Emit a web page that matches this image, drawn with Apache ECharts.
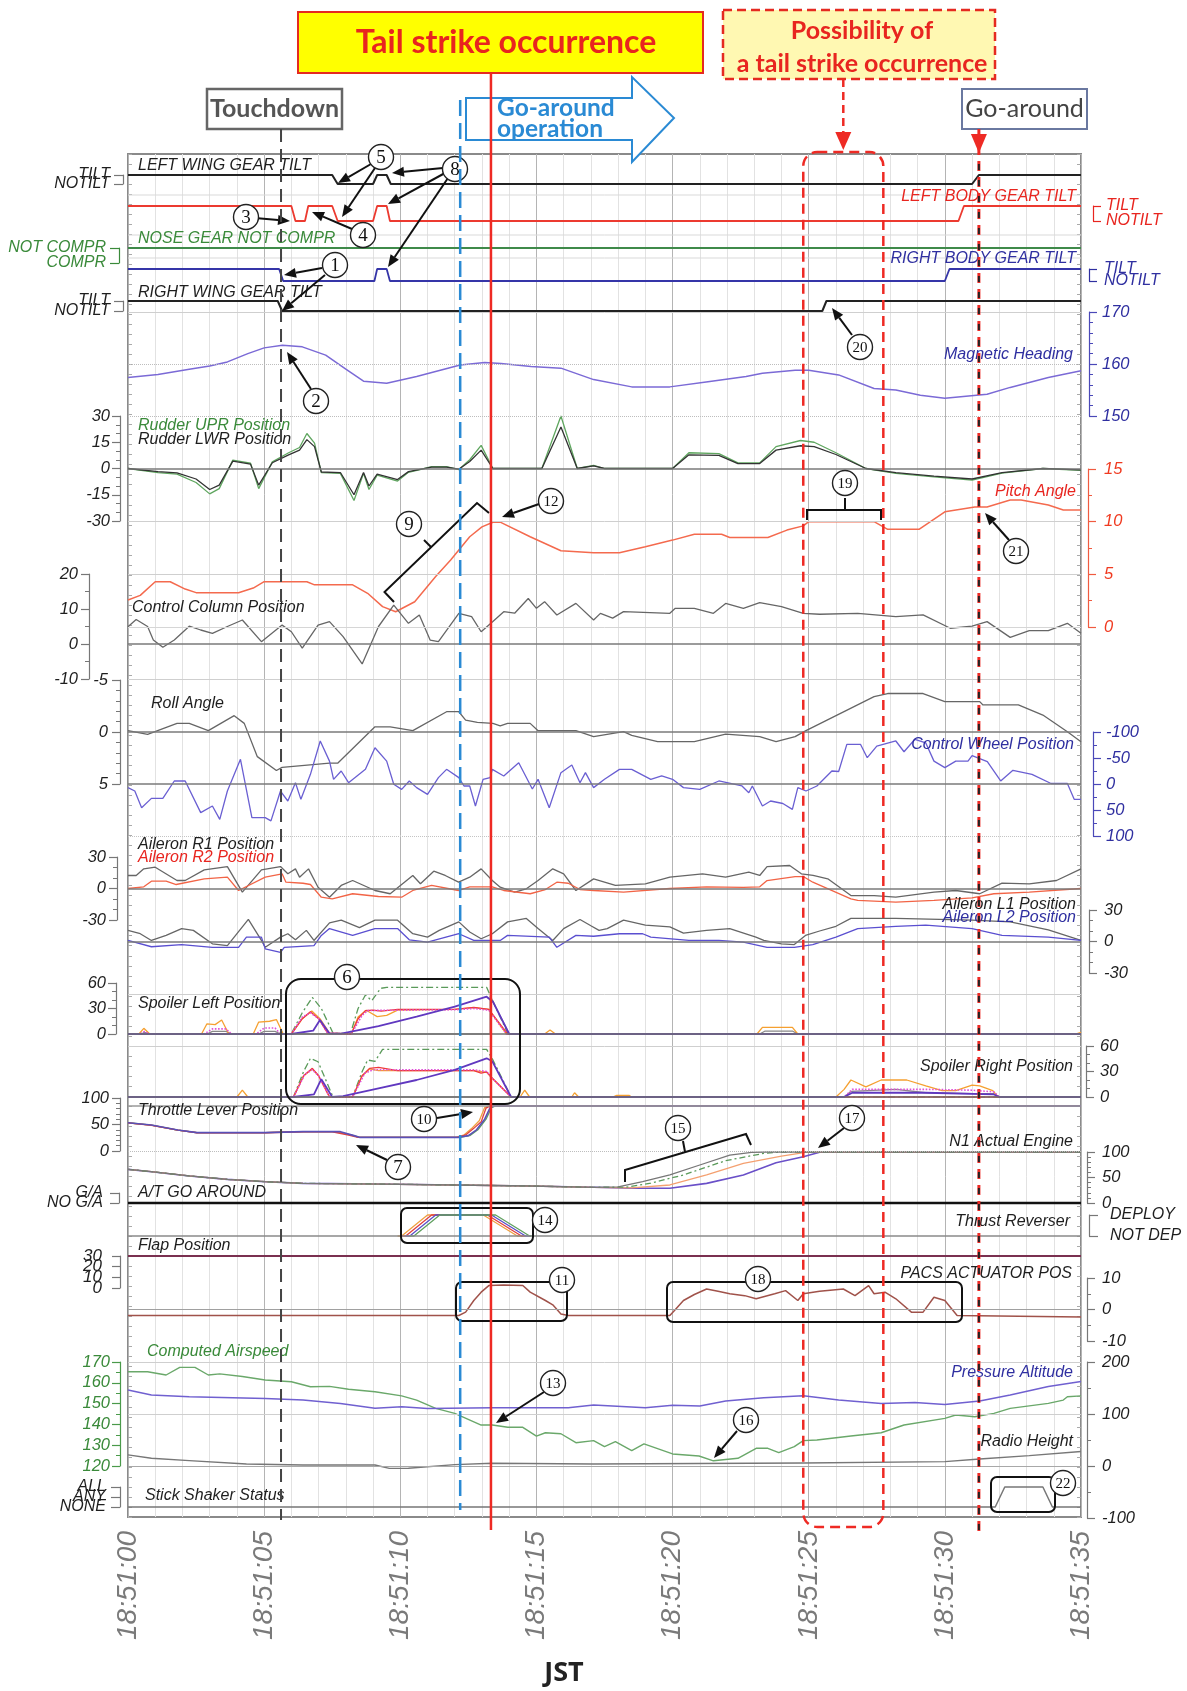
<!DOCTYPE html>
<html><head><meta charset="utf-8">
<script src="https://cdn.jsdelivr.net/npm/echarts@6/dist/echarts.min.js"></script>
<style>html,body{margin:0;padding:0;background:#fff}#c{width:1187px;height:1691px}</style>
</head><body><div id="c"></div>
<script>
// ---------------- DATA (time in seconds after 18:51:00) ----------------
const timeTicks = ['18:51:00','18:51:05','18:51:10','18:51:15','18:51:20','18:51:25','18:51:30','18:51:35'];
const tiltTicks = ['NOTILT','TILT'];
const comprTicks = ['COMPR','NOT COMPR'];
const gaTicks = ['NO G/A','G/A'];
const revTicks = ['NOT DEP','DEPLOY'];
const shakerTicks = ['NONE','ANY','ALL'];
const flapTicks = ['0','10','20','30'];
const eventTimes = [5.62, 12.2, 13.33, 31.25];   // touchdown, go-around op, tail strike, go-around
const possibleWindow = [24.8, 27.74];

const leftWingGear = [[0,1],[7.5,1],[7.7,0],[9.0,0],[9.15,1],[9.5,1],[9.65,0],[31.0,0],[31.25,1],[35,1]];
const leftBodyGear = [[0,1],[6.0,1],[6.15,0],[6.5,0],[6.62,1],[7.5,1],[7.7,0],[9.0,0],[9.15,1],[9.5,1],[9.62,0],[30.5,0],[30.7,1],[35,1]];
const noseGear = [[0,1],[35,1]];
const rightBodyGear = [[0,1],[5.55,1],[5.7,0],[9.05,0],[9.15,1],[9.5,1],[9.62,0],[30.0,0],[30.17,1],[35,1]];
const rightWingGear = [[0,1],[5.5,1],[5.66,0],[25.5,0],[25.65,1],[35,1]];

const magneticHeading = [[0,157.4],[1.1,158.0],[2.25,159.0],[3.0,159.6],[3.65,160.4],[4.4,162.0],[5.0,163.1],[5.67,163.6],[6.4,163.3],[7.26,161.7],[8.0,159.0],[8.65,156.7],[9.5,156.3],[10.6,157.6],[12.2,159.8],[13.1,160.3],[13.7,160.1],[14.8,159.5],[15.9,159.2],[17.1,157.0],[18.5,155.6],[19.9,155.6],[21.3,156.6],[22.7,157.6],[23.3,158.2],[24.5,158.8],[25.0,158.8],[26.1,157.9],[27.4,155.3],[28.2,155.0],[29.1,154.0],[30.0,153.4],[31.55,154.2],[32.4,155.5],[33.8,157.4],[35,158.7]];

const rudderLwr = [[0,0],[1.1,-1.8],[1.8,-2.5],[2.5,-6],[3.0,-12],[3.35,-9.5],[3.85,4.2],[4.5,2.5],[4.8,-9.5],[5.3,3.3],[5.9,7.8],[6.3,10.5],[6.57,16.5],[6.85,12.5],[7.1,-2],[7.8,-2.3],[8.3,-15],[8.65,-2.3],[8.85,-10],[9.15,-3.2],[9.9,-6.3],[10.3,-1.8],[11.15,0.8],[11.7,0.8],[12.15,-0.4],[12.55,4],[12.97,10.5],[13.4,0],[15.2,0],[15.9,23.7],[16.5,0],[17.1,1.5],[17.5,0],[20.0,0],[20.6,7.8],[21.7,7.5],[22.4,2.8],[23.2,2.8],[23.8,10.5],[24.7,13],[25.2,12.5],[26.0,8],[27.1,0],[28.2,-2.3],[29.6,-4.3],[31.0,-6],[32.1,-2.3],[33.6,0],[35,-0.8]];
const rudderUpr = [[0,0],[1.1,-2.4],[1.8,-3.2],[2.5,-8],[3.0,-14.5],[3.35,-11.5],[3.85,4.8],[4.5,3],[4.8,-11.5],[5.3,3.8],[5.9,9],[6.3,12],[6.57,20],[6.85,14.5],[7.1,-2.4],[7.8,-2.8],[8.3,-18.3],[8.65,-2.8],[8.85,-12],[9.15,-3.8],[9.9,-7.2],[10.3,-2.2],[11.15,1],[11.7,1],[12.15,-0.6],[12.55,5],[12.97,13.2],[13.4,0],[15.2,0],[15.9,30],[16.5,0],[17.1,1.8],[17.5,0],[20.0,0],[20.6,9],[21.7,8.5],[22.4,3.2],[23.2,3.2],[23.8,12.5],[24.7,16],[25.2,15],[26.0,9],[27.1,0],[28.2,-2.8],[29.6,-4.8],[31.0,-6.6],[32.1,-2.6],[33.6,0],[35,-1]];

const pitchAngle = [[0,2.56],[0.45,3.0],[1.0,4.3],[1.55,4.3],[2.1,3.6],[2.5,3.26],[4.06,3.26],[4.6,3.7],[5.0,4.3],[6.57,4.3],[6.85,4.0],[8.25,4.0],[8.8,3.2],[9.35,1.93],[9.83,1.45],[10.53,2.4],[11.3,4.8],[11.85,6.36],[12.55,8.57],[13.0,9.5],[13.4,9.94],[13.67,9.95],[14.77,8.57],[15.9,7.24],[17.1,7.05],[18.05,7.05],[19.0,7.62],[20.0,8.25],[20.8,8.8],[21.8,8.8],[22.1,8.5],[23.5,8.5],[24.2,9.2],[24.8,9.6],[25.0,10.0],[27.4,10.0],[27.9,9.27],[29.05,9.27],[30.0,10.94],[31.1,11.4],[31.55,11.4],[32.4,12.05],[32.8,12.05],[33.8,11.58],[34.35,11.1],[35,11.1]];

const controlColumn = [[0,4.95],[0.3,7.0],[0.72,5],[0.93,1.14],[1.28,-0.95],[1.7,1.14],[2.25,5.1],[2.67,4],[3.1,3.05],[3.65,5],[4.2,6.86],[4.9,0.67],[5.66,5.4],[6.0,3.5],[6.4,-1.2],[6.98,5.4],[7.4,6.4],[7.9,2.1],[8.6,-5.7],[9.2,5],[9.76,11.1],[10.3,5.9],[10.7,8.3],[11.1,1.1],[11.4,0.7],[12.15,8.76],[12.62,7.8],[12.97,3.5],[13.4,6.4],[13.8,9.24],[14.2,8.8],[14.7,13.0],[15.0,10.2],[15.3,12.1],[15.75,8.3],[16.45,11.6],[17.1,6.86],[17.35,8.76],[17.8,7.4],[18.2,9.24],[19.9,8.76],[20.1,10.2],[20.8,10.2],[21.5,8.76],[21.95,11.6],[22.6,10.2],[23.2,11.8],[24.0,10.7],[24.8,8.76],[25.4,8.5],[26.8,8.76],[28.2,7.8],[29.2,8.3],[30.2,4.5],[31.0,5.1],[31.55,6.4],[32.4,1.9],[33.1,3.8],[33.8,3.8],[34.5,5.9],[35,3.05]];

const rollAngle = [[0,-0.13],[0.72,0.22],[1.8,-0.83],[2.25,-0.83],[2.95,-0.13],[3.9,-1.57],[4.27,-0.83],[4.75,2.37],[5.45,3.7],[5.66,3.4],[7.4,3.0],[7.7,3.0],[9.07,-0.5],[9.63,-0.5],[10.46,-0.13],[11.7,-1.95],[12.15,-1.95],[12.4,-1.15],[12.83,-0.93],[13.4,-0.83],[13.67,-0.58],[13.94,-0.83],[14.77,-0.83],[15.06,-0.13],[16.45,-0.13],[17.1,0.45],[18.2,-0.03],[18.5,0.32],[19.45,0.93],[20.8,0.93],[21.95,0.2],[23.2,0.45],[23.8,0.93],[24.5,0.45],[24.9,-0.13],[27.4,-3.4],[27.9,-3.7],[29.2,-3.7],[30.0,-2.92],[31.28,-2.92],[31.4,-2.6],[32.7,-2.6],[33.6,-1.63],[34.5,-0.03],[35,0.93]];

const controlWheel = [[0,7],[0.25,13.5],[0.5,45.6],[0.86,27.6],[1.28,27.6],[1.7,-5.8],[2.1,-5.8],[2.67,55.1],[3.1,42.3],[3.37,68],[3.65,13.5],[4.13,-47.5],[4.55,64.7],[5.04,64.7],[5.25,71],[5.6,13.5],[5.87,32.7],[6.15,-2.5],[6.35,29.5],[6.7,-18.6],[7.06,-82.7],[7.4,-44],[7.55,-9],[7.83,-25],[8.1,-2.5],[8.72,-28.2],[9.07,-69.8],[9.5,-44],[9.76,0.6],[10.05,10.3],[10.33,-5.8],[10.6,7],[11.0,19.9],[11.4,-12.2],[11.7,-28.2],[12.15,-12.2],[12.34,3.8],[12.55,3.8],[12.76,42.3],[13.04,-9],[13.3,-12.2],[13.38,-28.2],[13.8,-15.4],[14.35,-41],[14.85,9.6],[15.06,-9],[15.47,45.6],[15.9,-21.8],[16.3,-36.5],[16.6,-2.5],[16.8,-21.8],[17.1,7],[17.5,-9],[18.05,-28.2],[18.5,-28.2],[19.2,-9],[19.6,-15.4],[20.0,-9],[20.4,7],[21.0,10.3],[21.7,-5.8],[22.55,3.8],[22.8,16.7],[22.93,3.8],[23.3,42.3],[23.6,32.7],[24.05,37.5],[24.4,48.7],[24.6,7],[24.9,13.5],[25.3,3.8],[25.85,-25],[26.1,-24],[26.4,-76.3],[26.9,-76.3],[27.15,-50.6],[27.5,-73],[28.2,-82.7],[28.5,-62],[28.9,-86],[29.3,-79],[29.6,-44],[30.0,-31.4],[30.4,-44],[30.85,-44],[31.0,-54.5],[31.56,-43],[32.05,-5.8],[32.5,-26.3],[33.2,-18.6],[33.9,-1],[34.5,-1],[34.75,29.5],[35,29.5]];

const aileronR1 = [[0,12.4],[0.3,12.4],[0.58,18.7],[1.0,20.3],[1.8,7.6],[2.1,7.6],[2.8,17.8],[3.65,20.9],[4.2,-3.5],[4.9,17.8],[5.6,20.9],[5.87,14],[6.15,18.7],[6.3,10.8],[6.63,18.7],[6.98,1.2],[7.4,-8.3],[7.83,2.9],[8.25,7.6],[9.07,-1.9],[9.63,-5],[10.46,12.4],[10.74,4.5],[11.23,16.5],[11.65,12.4],[12.14,6],[12.55,10.8],[12.97,18.7],[13.38,7.6],[13.67,1.2],[14.2,-3.5],[14.63,-0.3],[15.06,7.6],[15.6,18.7],[16.0,14],[16.45,-1.9],[17.1,9.2],[17.9,2.9],[19.0,4.5],[19.9,10.8],[21.1,14],[21.95,10.8],[22.8,15.6],[23.2,12.4],[23.47,20.9],[24.3,21.9],[24.73,14],[25.16,12.4],[25.7,9.2],[26.55,-6.7],[27.4,-6.7],[28.2,-8.3],[29.6,-3.5],[30.4,-1.9],[31.28,-5],[32.1,5.1],[33.1,4.5],[34.1,7.6],[35,18.7]];
const aileronR2 = [[0,0],[0.58,1.6],[0.86,7],[1.4,7],[1.77,3.8],[2.8,9.2],[3.65,10.8],[4.06,-1.9],[5.04,10.8],[5.66,14],[5.8,6],[6.43,5],[6.7,3.8],[7.1,-8.3],[7.5,-9.8],[8.25,-5],[9.2,-7.6],[10.05,-8.3],[10.46,-1.9],[11.15,2.9],[12.14,-1.9],[12.55,1.6],[13.38,1.6],[13.8,-1.9],[14.77,-5],[15.33,-1],[15.75,6],[16.17,5],[16.6,-1],[17.1,-1.9],[18.2,-3.5],[19.9,0],[21.25,1.6],[22.6,1],[23.2,1.6],[23.47,7.6],[24.5,11.4],[24.8,11.4],[25.15,6],[26.55,-9.8],[26.8,-11.4],[28.2,-13],[29.6,-11.4],[31.0,-9],[31.8,-5],[33.1,-3.5],[35,0]];
const aileronL1 = [[0,10.6],[0.45,7.4],[0.86,1],[1.4,5.8],[1.97,12.3],[2.4,10.6],[3.1,-2.2],[3.65,-3.9],[4.42,21],[4.9,1],[5.04,-5.5],[5.6,4.2],[5.87,7.4],[6.15,1.6],[6.55,10.6],[6.83,1],[7.4,17.7],[7.83,20.3],[8.5,13.2],[9.07,20.3],[9.9,20.3],[10.46,7.4],[11.0,4.2],[11.43,10.6],[12.15,18.7],[12.55,9],[12.97,2.6],[13.38,7.4],[13.94,18.7],[14.63,22],[15.06,12.3],[15.6,1],[16.0,12.3],[16.6,21],[17.0,15],[17.3,10.6],[17.6,12.3],[18.2,20.3],[19.0,15.5],[19.9,13.9],[20.4,7.9],[21.25,10.6],[22.1,12.3],[23.06,4.2],[23.35,1],[24.0,-2.2],[24.47,-2.9],[24.88,5.8],[25.4,10],[26.0,14.5],[26.55,22],[28.2,22],[31.0,20.3],[32.4,18.7],[33.8,11],[35,1]];
const aileronL2 = [[0,1],[0.86,-5],[1.97,-3],[3.1,-5.5],[4.06,-5.5],[4.35,4.2],[4.9,4.2],[5.04,-7],[5.6,-10.3],[5.74,-5.5],[6.83,-3.9],[7.1,5.8],[7.4,12.3],[8.25,5.8],[9.07,12.3],[9.9,12.3],[10.33,1.6],[11.0,-0.6],[12.15,7.4],[12.7,1],[13.67,1],[13.94,5.8],[15.47,4.2],[15.75,-5.5],[16.45,5.8],[17.1,5],[18.05,7.4],[18.9,7.4],[19.2,4.2],[20.6,1],[21.7,1],[22.6,-0.6],[23.47,-5.5],[24.47,-5.5],[25.15,-2.9],[26.0,4.2],[26.8,12.3],[28.2,14.5],[29.3,15.5],[31.0,12.3],[32.1,5.8],[33.8,4.2],[35,1]];

const spoilerLGreen = [[0,0],[6.0,0.5],[6.4,25],[6.77,43],[7.1,30],[7.53,1],[8.17,0.5],[8.45,30],[8.72,45.9],[8.95,39.2],[9.28,53.7],[9.5,54.9],[13.17,54.9],[13.38,40],[13.95,0.5],[35,0]];
const spoilerLOrange = [[0,0],[0.4,0],[0.58,6.7],[0.8,0],[2.7,0],[2.9,12],[3.2,11],[3.44,16.5],[3.7,0],[4.6,0],[4.8,14],[5.2,15],[5.45,17],[5.7,0],[6.0,0],[6.4,18],[6.75,27],[7.05,18],[7.4,1],[8.2,0],[8.45,20],[8.75,28],[9.15,20.4],[9.5,22],[9.9,28],[12.0,29],[12.7,31],[13.25,29],[13.9,0],[15.3,0],[15.5,4.7],[15.7,0],[23.1,0],[23.3,7.8],[24.4,7.8],[24.6,0],[34.8,0],[35,2]];
const spoilerLRed = [[0,0],[6.0,0],[6.4,18],[6.7,26.3],[7.0,18],[7.33,1],[8.2,0],[8.45,18],[8.72,27.5],[8.99,28],[9.3,27],[9.9,29],[12.0,29],[12.7,31.3],[13.25,29],[13.94,0],[35,0]];
const spoilerLMagenta = [[0,0],[0.45,0],[0.6,3],[0.8,0],[2.8,0],[3.1,6],[3.6,6],[3.8,0],[4.7,0],[5.0,7],[5.4,7],[5.6,0],[6.0,0],[6.4,20],[6.7,25],[7.0,18],[7.33,1],[8.2,0],[8.6,22],[8.8,27.5],[9.5,28],[10,28],[12.0,28.5],[12.7,30],[13.25,28],[13.9,0],[35,0]];
const spoilerLPurple = [[0,0],[6.0,0],[6.8,3.9],[7.05,16.5],[7.4,0.5],[7.83,0.5],[9.2,9.4],[10.6,20.4],[12.0,32.1],[13.17,43.9],[13.4,38],[14.0,0],[35,0]];
const spoilerLGray = [[0,0],[0.5,0],[0.6,2],[0.8,0],[2.9,0],[3.1,3],[3.6,3],[3.8,0],[4.8,0],[5.0,3],[5.4,3],[5.6,0],[13.3,0],[13.3,45],[14.0,0],[23.2,0],[23.4,3.5],[24.4,3.5],[24.6,0],[35,0]];

const spoilerRGreen = [[0,0],[6.08,0.4],[6.45,30],[6.7,45.5],[6.98,41.5],[7.53,0],[8.25,0],[8.6,30],[8.8,43.5],[9.07,42],[9.35,56.1],[13.17,56.1],[13.38,45],[14.07,0],[35,0]];
const spoilerRRed = [[0,0],[6.08,0],[6.45,25],[6.77,33.7],[7.0,25],[7.4,0],[8.25,0],[8.6,25],[8.87,33.7],[9.2,34.8],[9.9,31],[12.7,31],[12.97,28],[13.17,29.5],[13.38,22],[14.07,0],[35,0]];
const spoilerROrange = [[0,0],[4.0,0],[4.2,8.2],[4.4,0],[6.08,0],[6.45,25],[6.77,33],[7.0,25],[7.4,0],[8.25,0],[8.6,25],[8.87,33],[9.2,31],[9.9,31],[12.7,31],[13.17,29],[13.38,22],[14.07,0],[14.4,0],[14.57,8],[14.75,0],[16.3,0],[16.4,5],[16.55,0],[17.8,0],[17.95,2],[18.4,2],[18.5,0],[26.0,0],[26.3,9],[26.55,20],[27.1,12],[27.66,20],[28.6,20],[29.3,13],[29.9,7.5],[30.4,7.5],[31.0,14],[31.28,13],[31.76,7.5],[31.96,0],[35,0]];
const spoilerRMagenta = [[0,0],[6.08,0],[6.5,27],[6.77,32],[7.0,25],[7.4,0],[8.25,0],[8.7,28],[9.0,32],[9.9,32],[12.7,32],[13.17,30],[13.38,22],[14.07,0],[26.3,0],[26.6,9],[29.3,9],[31.0,8],[31.8,6],[32.0,0],[35,0]];
const spoilerRPurple = [[0,0],[6.08,0],[6.83,3],[7.1,21],[7.5,0],[7.9,1],[9.2,10.2],[10.6,20],[12.0,31.8],[13.17,45.5],[13.38,42],[14.07,0],[26.3,0],[26.6,5],[29.3,5],[31.8,3],[32.0,0],[35,0]];
const spoilerRGray = [[0,0],[26.3,0],[26.55,6.6],[28.2,9],[29.3,5],[31.0,4],[31.8,4],[32.0,0],[35,0]];

const throttlePurple = [[0,53.4],[0.86,49],[1.83,39.6],[2.53,34.6],[5.04,34.6],[6.43,36.5],[7.8,36.5],[8.3,29],[8.5,25.8],[12.15,25.8],[12.5,29],[12.8,40],[13.1,60],[13.3,82],[13.45,85],[35,85]];
const throttleRed = [[0,53],[0.86,48.5],[1.83,39.2],[2.53,34.4],[5.04,34.4],[6.43,36.3],[7.5,36.3],[8.1,30.2],[8.45,25.8],[12.1,25.8],[12.4,30.2],[12.7,42.7],[12.97,55],[13.15,81],[13.3,85],[35,85]];
const throttleOrange = [[0,53.2],[0.86,48.8],[1.83,39.4],[2.53,34.5],[5.04,34.5],[6.43,36.4],[7.6,36.4],[8.2,30],[8.5,25.8],[12.05,25.8],[12.35,30.5],[12.65,44],[12.9,57],[13.1,82],[13.25,85],[35,85]];
const throttleGreen = [[0,53.3],[0.86,48.9],[1.83,39.5],[2.53,34.6],[5.04,34.6],[6.43,36.5],[7.7,36.5],[8.25,29.5],[8.5,25.8],[12.2,25.8],[12.55,29],[12.85,40],[13.15,60],[13.35,82],[13.5,85],[35,85]];

const n1Gray = [[0,66],[0.86,61.4],[2.25,53],[3.65,46.4],[5.04,41.8],[6.43,38.5],[9.2,37.2],[12.0,35.3],[14.77,33.3],[17.1,30.8],[18.0,31.5],[18.9,41.8],[19.9,55],[21.0,74.5],[22.1,94],[22.9,99.4],[23.5,100],[35,100]];
const n1Green = [[0,66],[0.86,61.4],[2.25,53],[3.65,46.4],[5.04,41.8],[6.43,38.5],[9.2,37.2],[12.0,35.3],[14.77,33.3],[17.1,30.8],[18.3,31],[19.2,39],[20.4,55],[21.95,83],[23.35,97.3],[24.0,100],[35,100]];
const n1Orange = [[0,66],[0.86,61.4],[2.25,53],[3.65,46.4],[5.04,41.8],[6.43,38.5],[9.2,37.2],[12.0,35.3],[14.77,33.3],[17.1,30.8],[18.5,29.5],[19.9,35.3],[21.25,55],[22.6,77.8],[24.0,92],[24.88,99.4],[25.3,100],[35,100]];
const n1Purple = [[0,66],[0.86,61.4],[2.25,53],[3.65,46.4],[5.04,41.8],[6.43,38.5],[9.2,37.2],[12.0,35.3],[14.77,33.3],[17.1,30.8],[18.5,28.8],[19.9,28.8],[21.25,38.5],[22.6,55],[23.8,79],[24.8,90.8],[25.4,99.4],[26.1,100],[35,100]];

const atGoAround = [[0,0],[35,0]];
const reverserOrange = [[9.9,0],[10.05,0],[11.0,1],[13.05,1],[14.3,0],[14.5,0]];
const reverserRed = [[10.0,0],[10.2,0],[11.15,1],[13.2,1],[14.45,0],[14.6,0]];
const reverserPurple = [[10.2,0],[10.35,0],[11.3,1],[13.35,1],[14.6,0],[14.8,0]];
const reverserGreen = [[10.35,0],[10.5,0],[11.45,1],[13.5,1],[14.75,0],[14.9,0]];
const flapPosition = [[0,30],[35,30]];

const pacsActuator = [[0,-1.9],[12.15,-1.9],[12.4,-0.85],[12.7,2.85],[12.97,5.5],[13.25,7.6],[13.8,7.8],[14.5,7.6],[14.77,5.5],[15.33,2.85],[15.6,1.5],[15.9,-1.4],[16.17,-1.9],[19.9,-1.9],[20.07,-0.3],[20.4,2.85],[20.8,4.76],[21.25,6.5],[21.67,5.8],[22.1,5.0],[22.65,4.4],[23.07,3.4],[23.75,5.0],[24.15,6.0],[24.6,2.85],[24.8,5],[25.4,5.8],[26.27,6.5],[26.7,4.4],[27.2,7.6],[27.4,5],[27.8,5.5],[28.2,3.4],[28.77,-0.85],[29.2,-0.85],[29.6,3.9],[30.0,2.85],[30.45,-1.9],[35,-2.4]];

const computedAirspeed = [[0,165.3],[0.72,165.3],[1.4,163.75],[1.9,167.4],[2.46,167.4],[2.95,163.75],[3.37,164.3],[4.2,163],[5.04,161.35],[6.0,160.5],[6.7,158.1],[7.4,158.3],[8.1,156.9],[9.07,155.7],[10.05,153.7],[10.6,151.7],[11.3,147.7],[12.0,145.3],[12.97,139.7],[13.38,139.7],[13.95,138.6],[14.5,138.6],[15.0,134.4],[15.33,136],[15.9,135.5],[16.45,131.2],[17.1,132.2],[17.5,129.3],[17.9,131.7],[18.5,127.4],[18.95,130.6],[20.0,125.8],[20.97,124.8],[21.5,122.5],[22.4,123.7],[23.07,128.5],[23.5,128.5],[23.9,126.4],[24.47,129.3],[24.8,132.2],[25.3,132.5],[26.55,134.4],[27.66,136],[28.5,139.7],[30.0,142.9],[30.4,144.5],[31.1,143.7],[31.8,145.3],[32.4,147.7],[33.8,150.1],[34.35,151.7],[34.5,153.3],[35,153.7]];
const pressureAltitude = [[0,146],[0.86,136.5],[2.25,133.4],[5.04,130],[6.43,126.8],[7.8,120.4],[9.07,111],[10.05,114],[11.0,110.7],[13.38,112],[16.17,112],[17.1,117.5],[19.0,112],[20.0,117],[21.0,115.6],[21.95,124.9],[23.35,131.4],[24.8,135.3],[26.1,126.8],[27.66,120.4],[28.9,122.3],[30.0,118.4],[31.28,124.9],[32.4,136.5],[33.8,152.7],[35,162.4]];
const radioHeight = [[0,21.4],[0.86,14.9],[2.25,10.3],[4.35,3.9],[6.43,1.9],[9.07,1.9],[9.6,-4.5],[10.3,-4.2],[12.0,2.6],[13.38,5.2],[17.1,3.9],[24.8,5.8],[30.0,8.4],[31.28,13.6],[33.1,20],[35,27.8]];
const stickShaker = [[0,0],[31.85,0],[32.2,2],[33.6,2],[33.95,0],[35,0]];

// ---------------- LAYOUT ----------------
const PL = 128, PW = 953, PT = 154, PH = 1363;
const FONT = '"Liberation Sans", Arial, sans-serif';
const grids = [], xAxes = [], yAxes = [], series = [];

grids.push({left:PL, width:PW, top:PT, height:PH, show:true, borderColor:'#8a8a8a', borderWidth:2, backgroundColor:'rgba(0,0,0,0)', containLabel:false, outerBoundsMode:'none'});
xAxes.push({type:'value', gridIndex:0, min:0, max:35, interval:1, position:'bottom',
  axisLine:{show:false}, axisTick:{show:false},
  splitLine:{show:true, lineStyle:{color:['#b4b4b4','#e2e2e2','#e2e2e2','#e2e2e2','#e2e2e2'], width:1}},
  axisLabel:{showMinLabel:true, showMaxLabel:true, hideOverlap:false, rotate:90, margin:14, fontSize:28, color:'#7a7a7a', fontStyle:'italic', fontFamily:FONT,
    formatter: v => { const r = Math.round(v); return r % 5 === 0 ? timeTicks[r/5] : ''; }}});
yAxes.push({type:'value', gridIndex:0, min:0, max:1360, interval:10, position:'left', axisLine:{show:false}, axisLabel:{show:false}, splitLine:{show:false}, axisTick:{show:true, inside:true, length:4, lineStyle:{color:'#aaa'}}});
yAxes.push({type:'value', gridIndex:0, min:0, max:1360, interval:10, position:'right', axisLine:{show:false}, axisLabel:{show:false}, splitLine:{show:false}, axisTick:{show:true, inside:true, length:4, lineStyle:{color:'#aaa'}}});
series.push({type:'line', xAxisIndex:0, yAxisIndex:0, data:[], silent:true});

function addPanel(p) {
  const f = v => p.p1 + (v - p.v1) * (p.p2 - p.p1) / (p.v2 - p.v1);
  const a = f(p.min), b = f(p.max);
  const top = Math.min(a, b), h = Math.abs(a - b);
  const gi = grids.length, yi = yAxes.length;
  const ac = p.axisColor || '#777';
  const lab = {color:p.labelColor || '#1e1e1e', fontSize:p.fs || 16.5, fontStyle:'italic', fontFamily:FONT, showMinLabel:true, showMaxLabel:true, hideOverlap:false};
  grids.push({left:PL, width:PW, top, height:h, show:false, containLabel:false, outerBoundsMode:'none'});
  xAxes.push({type:'value', gridIndex:gi, min:0, max:35, show:false});
  yAxes.push({type:'value', gridIndex:gi, min:p.min, max:p.max, interval:p.interval, inverse:!!p.inverse,
    position:p.side, offset:p.offset,
    axisLine:{show:true, onZero:false, lineStyle:{color:ac, width:1.2}},
    axisTick:{show:true, length:p.tick || 8, lineStyle:{color:ac, width:1.2}},
    minorTick:{show:!!p.minor, splitNumber:p.minor || 5, length:4, lineStyle:{color:ac}},
    splitLine:{show:false},
    axisLabel:Object.assign({}, lab, {margin:p.margin, show:!p.labels, formatter: v => String(v)})});
  if (p.labels) {
    // one label per axis copy so that overlapping labels are all drawn, as in the reference
    p.labels.forEach((s, k) => {
      yAxes.push({type:'value', gridIndex:gi, min:p.min, max:p.max, interval:p.interval, inverse:!!p.inverse,
        position:p.side, offset:p.offset, axisLine:{show:false, onZero:false}, axisTick:{show:false}, splitLine:{show:false},
        axisLabel:Object.assign({}, lab, {margin:p.margin, formatter: v => (Math.abs((v - p.min) / p.interval - k) < 1e-6 ? s : '')})});
    });
  }
  if (p.lines) {
    series.push({type:'line', xAxisIndex:gi, yAxisIndex:yi, data:[], silent:true, z:p.lineZ || 1,
      markLine:{silent:true, symbol:['none','none'], animation:false, label:{show:false},
        data:p.lines.map(l => ({yAxis:l.v, lineStyle:{color:l.c, width:l.w || 1, type:l.t || 'solid'}}))}});
  }
  p.series.forEach(s => series.push({type:'line', xAxisIndex:gi, yAxisIndex:yi, data:s.d, showSymbol:false, symbol:'none',
    clip:false, silent:true, z:s.z || 3, lineStyle:{color:s.c, width:s.w || 1.3, type:s.t || 'solid'}, itemStyle:{color:s.c}}));
}

const DK = '#1e1e1e', RED = '#e8251f', GRN = '#3a8a3a', BLU = '#2f2fa0';
const lt = '#cfcfcf', dk = '#7a7a7a';

addPanel({v1:0,p1:184,v2:1,p2:175,min:0,max:1,interval:1,side:'left',offset:5,margin:13,tick:9,labels:tiltTicks,fs:16,
  series:[{d:leftWingGear,c:'#222',w:2}]});
addPanel({v1:0,p1:221,v2:1,p2:206,min:0,max:1,interval:1,side:'right',offset:12,margin:13,tick:8,labels:tiltTicks,fs:16,axisColor:RED,labelColor:RED,
  series:[{d:leftBodyGear,c:'#ec3a30',w:1.8}]});
addPanel({v1:0,p1:263,v2:1,p2:248,min:0,max:1,interval:1,side:'left',offset:9,margin:13,tick:9,labels:comprTicks,fs:16,axisColor:GRN,labelColor:GRN,
  series:[{d:noseGear,c:'#3f8a4a',w:1.8}]});
addPanel({v1:0,p1:281,v2:1,p2:269,min:0,max:1,interval:1,side:'right',offset:8,margin:15,tick:8,labels:tiltTicks,fs:16,axisColor:BLU,labelColor:BLU,
  series:[{d:rightBodyGear,c:'#3535a8',w:1.8}]});
addPanel({v1:0,p1:311,v2:1,p2:301,min:0,max:1,interval:1,side:'left',offset:5,margin:13,tick:9,labels:tiltTicks,fs:16,
  series:[{d:rightWingGear,c:'#222',w:2}]});
addPanel({v1:170,p1:312,v2:150,p2:416,min:150,max:170,interval:10,side:'right',offset:8,margin:13,minor:5,axisColor:'#4a48b8',labelColor:BLU,
  lines:[{v:170,c:lt},{v:160,c:'#bdbdbd',t:'dotted'},{v:150,c:'#bdbdbd',t:'dotted'}],
  series:[{d:magneticHeading,c:'#7b6ad6',w:1.5}]});
addPanel({v1:30,p1:416,v2:-30,p2:521,min:-30,max:30,interval:15,side:'left',offset:8,margin:10,minor:3,
  lines:[{v:0,c:dk,w:1.5},{v:-30,c:lt}],
  series:[{d:rudderUpr,c:'#5fa65f',w:1.3},{d:rudderLwr,c:'#333',w:1.3}]});
addPanel({v1:15,p1:469,v2:0,p2:627,min:0,max:15,interval:5,side:'right',offset:7,margin:16,minor:2,axisColor:'#f05a40',labelColor:'#f03a20',
  lines:[{v:5,c:lt},{v:0,c:'#d6d6d6'}],
  series:[{d:pitchAngle,c:'#f46a4e',w:1.5}]});
addPanel({v1:20,p1:574,v2:-10,p2:679,min:-10,max:20,interval:10,side:'left',offset:39,margin:11,minor:2,
  lines:[{v:0,c:dk,w:1.5},{v:-10,c:lt}],
  series:[{d:controlColumn,c:'#666',w:1.3}]});
addPanel({v1:-5,p1:680,v2:5,p2:784,min:-5,max:5,interval:5,inverse:true,side:'left',offset:8,margin:12,minor:5,
  lines:[{v:0,c:dk,w:1.5}],
  series:[{d:rollAngle,c:'#666',w:1.3}]});
addPanel({v1:-100,p1:732,v2:100,p2:836,min:-100,max:100,interval:50,inverse:true,side:'right',offset:12,margin:13,minor:2,axisColor:'#4a48b8',labelColor:BLU,
  lines:[{v:0,c:dk,w:1.5},{v:100,c:'#c4c4c4',t:'dotted'}],
  series:[{d:controlWheel,c:'#6a5fd2',w:1.3}]});
addPanel({v1:30,p1:857,v2:-30,p2:920,min:-30,max:30,interval:30,side:'left',offset:11,margin:11,minor:3,
  lines:[{v:0,c:dk,w:1.5}],
  series:[{d:aileronR1,c:'#666',w:1.3},{d:aileronR2,c:'#f26446',w:1.3}]});
addPanel({v1:30,p1:910,v2:-30,p2:973,min:-30,max:30,interval:30,side:'right',offset:8,margin:15,minor:3,
  lines:[{v:0,c:dk,w:1.5}],
  series:[{d:aileronL1,c:'#666',w:1.3},{d:aileronL2,c:'#5a4fd0',w:1.3}]});
addPanel({v1:60,p1:983,v2:0,p2:1034,min:0,max:60,interval:30,side:'left',offset:12,margin:10,minor:3,lineZ:5,
  lines:[{v:47,c:lt},{v:0,c:'#707070',w:1.6}],
  series:[{d:spoilerLGray,c:'#888'},{d:spoilerLGreen,c:'#5a9a5a',t:[7,3,2,3]},{d:spoilerLOrange,c:'#f5a030'},{d:spoilerLRed,c:'#ee3a3a'},
          {d:spoilerLMagenta,c:'#e050d8',t:'dotted',w:1.6},{d:spoilerLPurple,c:'#6038c0',w:1.8}]});
addPanel({v1:60,p1:1046,v2:0,p2:1097,min:0,max:60,interval:30,side:'right',offset:5,margin:14,minor:3,lineZ:5,
  lines:[{v:60,c:lt},{v:0,c:'#707070',w:1.6}],
  series:[{d:spoilerRGray,c:'#888'},{d:spoilerRGreen,c:'#5a9a5a',t:[7,3,2,3]},{d:spoilerROrange,c:'#f5a030'},{d:spoilerRRed,c:'#ee3a3a'},
          {d:spoilerRMagenta,c:'#e050d8',t:'dotted',w:1.6},{d:spoilerRPurple,c:'#6038c0',w:1.8}]});
addPanel({v1:100,p1:1098,v2:0,p2:1151,min:0,max:100,interval:50,side:'left',offset:8,margin:11,minor:5,lineZ:5,
  lines:[{v:85,c:'#9a9a9a',w:1.6},{v:0,c:'#bdbdbd',t:'dotted'}],
  series:[{d:throttleGreen,c:'#60a060'},{d:throttleOrange,c:'#f0a040'},{d:throttleRed,c:'#e04040'},{d:throttlePurple,c:'#5a50b8',w:1.6}]});
addPanel({v1:100,p1:1152,v2:0,p2:1203,min:0,max:100,interval:50,side:'right',offset:6,margin:15,minor:5,
  series:[{d:n1Purple,c:'#6a50c8',w:1.6},{d:n1Orange,c:'#f4a070'},{d:n1Green,c:'#5a9a5a',t:[6,3,2,3]},{d:n1Gray,c:'#777'}]});
addPanel({v1:0,p1:1203,v2:1,p2:1193,min:0,max:1,interval:1,side:'left',offset:9,margin:16,tick:9,labels:gaTicks,fs:16,
  series:[{d:atGoAround,c:'#111',w:2.5}]});
addPanel({v1:0,p1:1236,v2:1,p2:1215,min:0,max:1,interval:1,side:'right',offset:8,margin:21,tick:9,labels:revTicks,fs:16,
  lines:[{v:0,c:'#8a8a8a',w:1.5}],
  series:[{d:reverserOrange,c:'#f0a040'},{d:reverserRed,c:'#e04040'},{d:reverserPurple,c:'#5a4fc8'},{d:reverserGreen,c:'#60a060'}]});
addPanel({v1:0,p1:1288,v2:30,p2:1256,min:0,max:30,interval:10,side:'left',offset:8,margin:18,fs:17,labels:flapTicks,
  series:[{d:flapPosition,c:'#7a3050',w:2}]});
addPanel({v1:10,p1:1278,v2:-10,p2:1341,min:-10,max:10,interval:10,side:'right',offset:6,margin:15,minor:2,
  lines:[{v:0,c:'#a0a0a0',w:1.2}],
  series:[{d:pacsActuator,c:'#a0524a',w:1.5}]});
addPanel({v1:170,p1:1362,v2:120,p2:1466,min:120,max:170,interval:10,side:'left',offset:8,margin:10,minor:2,axisColor:'#4a9a4a',labelColor:GRN,
  lines:[{v:170,c:lt}],
  series:[{d:computedAirspeed,c:'#6aa86a',w:1.4}]});
addPanel({v1:200,p1:1362,v2:-100,p2:1518,min:-100,max:200,interval:100,side:'right',offset:6,margin:15,minor:2,
  lines:[{v:100,c:lt},{v:0,c:'#a8a8a8',w:1.2}],
  series:[{d:pressureAltitude,c:'#7060d0',w:1.5},{d:radioHeight,c:'#777',w:1.4}]});
addPanel({v1:0,p1:1507,v2:2,p2:1487,min:0,max:2,interval:1,side:'left',offset:8,margin:14,tick:9,labels:shakerTicks,fs:16,
  series:[{d:stickShaker,c:'#777',w:1.5}]});

const chart = echarts.init(document.getElementById('c'), null, {renderer:'canvas', width:1187, height:1691});
chart.setOption({animation:false, backgroundColor:'#fff', grid:grids, xAxis:xAxes, yAxis:yAxes, series:series});

// ---------------- ANNOTATIONS ----------------
const X = t => chart.convertToPixel({xAxisIndex:0}, t);
const G = [];
const HF = 'Lato, "Open Sans", sans-serif';
function txt(s, x, y, o) {
  o = o || {};
  G.push({type:'text', x, y, z:o.z || 110, style:{text:s, fill:o.c || DK, fontSize:o.fs || 16, fontFamily:o.ff || FONT,
    fontStyle:o.st || 'italic', fontWeight:o.fw || 'normal', align:o.al || 'left', textAlign:o.al || 'left',
    verticalAlign:'middle', textVerticalAlign:'middle'}});
}
function line(x1,y1,x2,y2,c,w,dash,z) {
  G.push({type:'line', z:z || 105, shape:{x1,y1,x2,y2}, style:{stroke:c, lineWidth:w, lineDash:dash || null}});
}
function arrow(x1,y1,x2,y2) {
  const a = Math.atan2(y2-y1, x2-x1), hd = 12;
  const bx = x2 - hd*Math.cos(a), by = y2 - hd*Math.sin(a);
  const px = -Math.sin(a)*5, py = Math.cos(a)*5;
  line(x1,y1,bx,by,'#111',2,null,130);
  G.push({type:'polygon', z:130, shape:{points:[[x2,y2],[bx+px,by+py],[bx-px,by-py]]}, style:{fill:'#111'}});
}
function circ(n, cx, cy) {
  G.push({type:'circle', z:131, shape:{cx, cy, r:12.5}, style:{fill:'#fff', stroke:'#222', lineWidth:1.4}});
  G.push({type:'text', x:cx, y:cy+1, z:132, style:{text:String(n), fill:'#111', fontSize:n < 10 ? 19 : 15, fontFamily:'"Liberation Serif", serif',
    align:'center', textAlign:'center', verticalAlign:'middle', textVerticalAlign:'middle'}});
}
function box(x,y,w,h,r,c,lw,fill,dash,z) {
  G.push({type:'rect', z:z || 120, shape:{x,y,width:w,height:h,r:r || 0}, style:{fill:fill || 'rgba(0,0,0,0)', stroke:c, lineWidth:lw, lineDash:dash || null}});
}
function poly(pts) {
  G.push({type:'polyline', z:125, shape:{points:pts}, style:{stroke:'#111', lineWidth:2, fill:null}});
}

[195, 235, 258].forEach(y => line(PL, y, PL+PW, y, '#d9d9d9', 1, null, 1));

// header boxes
box(298, 12, 405, 61, 0, '#e52a20', 2, '#ffff00', null, 100);
txt('Tail strike occurrence', 506, 43, {c:'#e8251f', fs:32, ff:HF, st:'normal', fw:'bold', al:'center'});
box(723, 10, 272, 69, 0, '#e52a20', 2.5, '#fff8b2', [9,5], 100);
txt('Possibility of', 862, 31, {c:'#e8251f', fs:25, ff:HF, st:'normal', fw:'bold', al:'center'});
txt('a tail strike occurrence', 862, 64, {c:'#e8251f', fs:25, ff:HF, st:'normal', fw:'bold', al:'center'});
box(207, 89, 135, 40, 0, '#666', 2.5, '#fff', null, 100);
txt('Touchdown', 274.5, 109, {c:'#555', fs:25, ff:HF, st:'normal', fw:'bold', al:'center'});
box(962, 89, 125, 40, 0, '#6a78a0', 2, '#fff', null, 100);
txt('Go-around', 1024.5, 109, {c:'#444', fs:25, ff:HF, st:'normal', al:'center'});
G.push({type:'polygon', z:100, shape:{points:[[466,98],[632,98],[632,77],[674,118],[632,162],[632,140],[466,140]]}, style:{fill:'#fff', stroke:'#2a8ad4', lineWidth:2}});
txt('Go-around', 497, 108, {c:'#2a8ad4', fs:24.5, ff:HF, st:'normal', fw:'bold'});
txt('operation', 497, 129, {c:'#2a8ad4', fs:24.5, ff:HF, st:'normal', fw:'bold'});

// event lines placed through the time scale
const xTd = X(eventTimes[0]), xGo = X(eventTimes[1]), xTs = X(eventTimes[2]), xGa = X(eventTimes[3]);
line(xTd, 129, xTd, 1520, '#444', 2, [13,7], 140);
line(xGo, 100, xGo, 1510, '#2a8ad4', 2.5, [16,7], 140);
line(xTs, 73, xTs, 1530, '#ee2a24', 2.5, null, 141);
line(xGa, 129, xGa, 1532, '#ee2a24', 3, [10,6], 141);
G.push({type:'line', z:142, shape:{x1:xGa, y1:160, x2:xGa, y2:1532}, style:{stroke:'#222', lineWidth:2, lineDash:[6,10], lineDashOffset:12}});
G.push({type:'polygon', z:142, shape:{points:[[xGa,153],[xGa-8,134],[xGa+8,134]]}, style:{fill:'#ee2a24'}});
const xw1 = X(possibleWindow[0]), xw2 = X(possibleWindow[1]), xwm = (xw1 + xw2) / 2;
box(xw1, 152, xw2 - xw1, 1375, 14, '#ee2a24', 2.5, null, [10,6], 140);
line(xwm, 79, xwm, 134, '#ee2a24', 2.5, [8,5], 140);
G.push({type:'polygon', z:142, shape:{points:[[xwm,150],[xwm-8,132],[xwm+8,132]]}, style:{fill:'#ee2a24'}});

// trace labels
const L = 138, R = 1076;
txt('LEFT WING GEAR TILT', L, 166);
txt('LEFT BODY GEAR TILT', R, 197, {c:RED, al:'right'});
txt('NOSE GEAR NOT COMPR', L, 239, {c:GRN});
txt('RIGHT BODY GEAR TILT', R, 259, {c:BLU, al:'right'});
txt('RIGHT WING GEAR TILT', L, 293);
txt('Magnetic Heading', 1073, 355, {c:BLU, al:'right'});
txt('Rudder UPR Position', L, 426, {c:GRN});
txt('Rudder LWR Position', L, 440);
txt('Pitch Angle', R, 492, {c:RED, al:'right'});
txt('Control Column Position', 132, 608);
txt('Roll Angle', 151, 704);
txt('Control Wheel Position', 1074, 745, {c:BLU, al:'right'});
txt('Aileron R1 Position', L, 845);
txt('Aileron R2 Position', L, 858, {c:RED});
txt('Aileron L1 Position', R, 905, {al:'right'});
txt('Aileron L2 Position', R, 918, {c:BLU, al:'right'});
txt('Spoiler Left Position', L, 1004);
txt('Spoiler Right Position', 1073, 1067, {al:'right'});
txt('Throttle Lever Position', L, 1111);
txt('N1 Actual Engine', 1073, 1142, {al:'right'});
txt('A/T GO AROUND', L, 1193);
txt('Thrust Reverser', 1070, 1222, {al:'right'});
txt('Flap Position', L, 1246);
txt('PACS ACTUATOR POS', 1072, 1274, {al:'right'});
txt('Computed Airspeed', 147, 1352, {c:GRN});
txt('Pressure Altitude', 1073, 1373, {c:BLU, al:'right'});
txt('Radio Height', 1073, 1442, {al:'right'});
txt('Stick Shaker Status', 145, 1496);
txt('JST', 564, 1673, {fs:27, ff:'"Open Sans", Lato, sans-serif', st:'normal', fw:'bold', al:'center', c:'#222'});

// annotation shapes
box(286, 979, 234, 125, 15, '#111', 2);
box(401, 1208, 132, 35, 6, '#111', 2);
box(456, 1282, 111, 39, 6, '#111', 2);
box(667, 1282, 295, 40, 6, '#111', 2);
box(991, 1477, 64, 35, 6, '#111', 2);
poly([[807,520],[807,510],[881,510],[881,520]]); poly([[845,510],[845,498]]);
poly([[394,602],[384.5,592],[477,503],[489,513]]); poly([[431,547],[424,540]]);
poly([[625,1182],[625,1170],[746,1134],[751,1145]]); poly([[685,1152],[683,1141]]);

arrow(322,268,284,275); arrow(325,275,282,311);
arrow(311,389,287,352);
arrow(255,218,290,221);
arrow(352,229,312,212);
arrow(371,164,338,183); arrow(375,168,342,217);
arrow(443,168,392,173); arrow(445,173,388,204); arrow(448,178,388,267);
arrow(387,1160,356,1145);
arrow(437,1118,473,1112);
arrow(539,504,502,517);
arrow(544,1392,496,1423);
arrow(737,1431,714,1458);
arrow(844,1128,818,1148);
arrow(852,335,832,308);
arrow(1009,540,985,513);

[[1,335,265],[2,316,401],[3,246,217],[4,363,235],[5,381,157],[6,347,977],[7,398,1167],[8,455,169],[9,409,524],[10,424,1119],
 [11,562,1280],[12,551,501],[13,553,1383],[14,545,1220],[15,678,1128],[16,746,1420],[17,852,1118],[18,758,1279],[19,845,483],
 [20,860,347],[21,1016,551],[22,1063,1483]].forEach(c => circ(c[0], c[1], c[2]));

chart.setOption({graphic:{elements:G}});
</script></body></html>
